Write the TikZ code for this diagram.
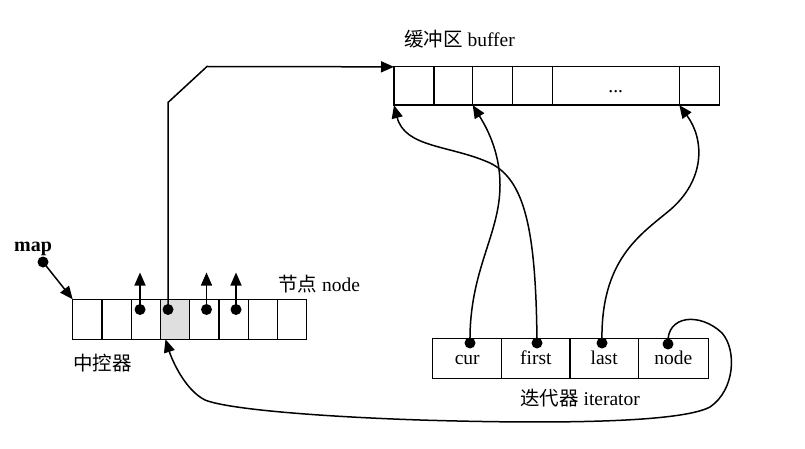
\documentclass[tikz,border=0pt]{standalone}
\usepackage{fontspec}
\setmainfont{Liberation Serif}
\newfontfamily\cjk{Noto Sans CJK SC}
\usetikzlibrary{arrows.meta,calc}
\begin{document}
\begin{tikzpicture}[x=1pt,y=-1pt,
  cell/.style={draw, line width=1.3pt, inner sep=0pt, outer sep=0pt,
    text height=13pt, text depth=0pt, font=\fontsize{19.5}{22}\selectfont},
  mcell/.style={cell, minimum width=29.25pt, minimum height=40pt},
  bcell/.style={cell, minimum height=38.3pt},
  icell/.style={cell, minimum height=40pt},
  dot/.style={circle, fill=black, inner sep=0pt, minimum size=11pt},
  link/.style={line width=1.5pt, -{Triangle[length=13pt,width=11pt]}},
  lab/.style={font=\fontsize{19.5}{22}\selectfont, inner sep=0pt, anchor=base west}]
\useasboundingbox (0,0) rectangle (805,449);
% map (中控器)
\node[mcell] (m1) at (87.3,319.3) {};
\node[mcell] (m2) at (116.6,319.3) {};
\node[mcell] (m3) at (145.8,319.3) {};
\node[mcell, fill=gray!25] (m4) at (175.1,319.3) {};
\node[mcell] (m5) at (204.3,319.3) {};
\node[mcell] (m6) at (233.6,319.3) {};
\node[mcell] (m7) at (262.8,319.3) {};
\node[mcell] (m8) at (292.1,319.3) {};
% buffer
\node[bcell, minimum width=40pt] (b1) at (414,86) {};
\node[bcell, minimum width=38.7pt] (b2) at (453.4,86) {};
\node[bcell, minimum width=39.6pt] (b3) at (492.5,86) {};
\node[bcell, minimum width=40pt] (b4) at (532.3,86) {};
\node[bcell, minimum width=127pt] (b5) at (615.8,86) {...};
\node[bcell, minimum width=40pt] (b6) at (699.3,86) {};
% iterator
\node[icell, minimum width=69pt] (i1) at (467.2,358.3) {cur};
\node[icell, minimum width=68.3pt] (i2) at (535.9,358.3) {first};
\node[icell, minimum width=68.3pt] (i3) at (604.2,358.3) {last};
\node[icell, minimum width=70pt] (i4) at (673.3,358.3) {node};
% labels
\node[lab] (lbuf) at (404,47) {{\cjk 缓冲区} buffer};
\node[lab] (lnode) at (278,291) {{\cjk 节点} node};
\node[lab] (lmap) at (73,370) {\cjk 中控器};
\node[lab] (lit) at (520,405) {{\cjk 迭代器} iterator};
\node[anchor=base west, inner sep=0pt, font=\fontsize{20}{22}\selectfont\bfseries] (mapl) at (14,251) {map};
% dots
\node[dot] (mapdot) at (43,262) {};
\node[dot] (d3) at (140,309.5) {};
\node[dot] (d4) at (168,309.5) {};
\node[dot] (d5) at (206.5,309.5) {};
\node[dot] (d6) at (236,309.5) {};
\node[dot] (c1) at (470,343) {};
\node[dot] (c2) at (537,343) {};
\node[dot] (c3) at (602,343) {};
\node[dot] (c4) at (668,344) {};
% connectors
\draw[link] (mapdot.center) -- (m1.north west);
\draw[link] (d3.center) -- ++(0,-37);
\draw[link] (d5.center) -- ++(0,-37);
\draw[link] (d6.center) -- ++(0,-37);
\draw[link] (d4.center) -- ++(0,-207) -- ++(39,-36) -- (b1.north west);
\draw[link] (c2.center) .. controls (536,230) and (525,180) .. (490,163)
  .. controls (450,145) and (405,148) .. (b1.south west);
\draw[link] (c1.center) .. controls (469,270) and (500,235) .. (500,185)
  .. controls (500,150) and (485,125) .. (b3.south west);
\draw[link] (c3.center) .. controls (600,260) and (640,235) .. (670,210)
  .. controls (705,180) and (705,140) .. (b6.south west);
\draw[link] (c4.center) .. controls (666,315) and (700,312) .. (722,333)
  .. controls (737,350) and (735,390) .. (710,407)
  .. controls (680,423) and (550,424) .. (420,420)
  .. controls (330,417) and (230,410) .. (205,400)
  .. controls (185,390) and (172,360) .. ($(m4.south west)+(5,0)$);
\end{tikzpicture}
\end{document}
